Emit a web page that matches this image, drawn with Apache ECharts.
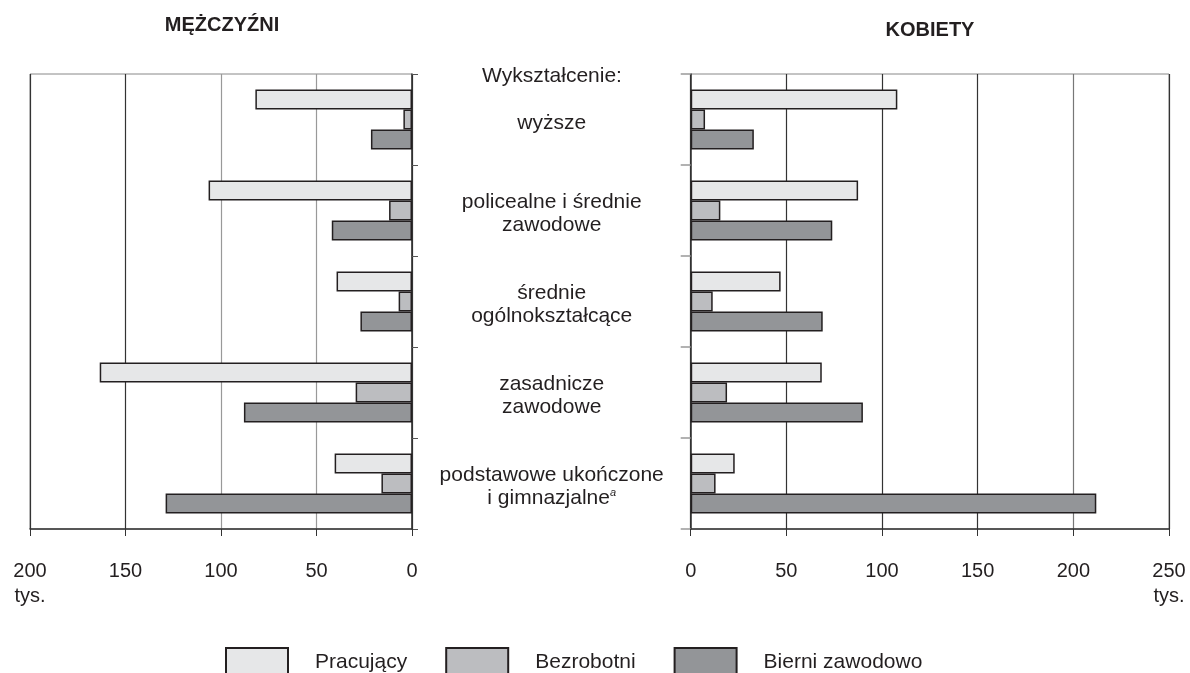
<!DOCTYPE html>
<html>
<head>
<meta charset="utf-8">
<title>Wykształcenie</title>
<script src="https://cdn.jsdelivr.net/npm/echarts@6/dist/echarts.min.js"></script>
<style>
  html, body { margin: 0; padding: 0; background: #fff; }
  #container { width: 1190px; height: 673px; }
</style>
</head>
<body>
<div id="container"></div>
<script>
// dane (tys.)
var categories = ['wyższe', 'policealne i średnie\nzawodowe', 'średnie\nogólnokształcące', 'zasadnicze\nzawodowe', 'podstawowe ukończone\ni gimnazjalne'];
var seriesNames = ['Pracujący', 'Bezrobotni', 'Bierni zawodowo'];
var menPracujacy = [82, 106.5, 39.5, 163.5, 40.5];
var menBezrobotni = [4.5, 12, 7, 29.5, 16];
var menBierni = [21.5, 42, 27, 88, 129];
var womenPracujacy = [108, 87.5, 47, 68.5, 23];
var womenBezrobotni = [7.5, 15.5, 11.5, 19, 13];
var womenBierni = [33, 74, 69, 90, 212];
var menTicks = [0, 50, 100, 150, 200];
var womenTicks = [0, 50, 100, 150, 200, 250];

var colors = ['#e6e7e8', '#bcbdc0', '#939598'];
var ink = '#231f20';
var font = 'Liberation Sans, Arial, Helvetica, sans-serif';

var myChart = echarts.init(document.getElementById('container'));

function bar(name, data, idx, gridIdx) {
  return {
    name: name,
    type: 'bar',
    xAxisIndex: gridIdx,
    yAxisIndex: gridIdx,
    data: data,
    barWidth: 20,
    barGap: '0%',
    itemStyle: { color: colors[idx], borderColor: ink, borderWidth: 1.5 },
    emphasis: { disabled: true }
  };
}

function tickLabel(lastVal) {
  return function (v) {
    return v === lastVal ? v + '\ntys.' : String(v);
  };
}

var option = {
  animation: false,
  textStyle: { fontFamily: font },
  graphic: [
    { type: 'text', x: 222, y: 25, style: { text: 'MĘŻCZYŹNI', fill: ink, font: 'bold 20px ' + font, textAlign: 'center', textVerticalAlign: 'middle' } },
    { type: 'text', x: 930, y: 30, style: { text: 'KOBIETY', fill: ink, font: 'bold 20px ' + font, textAlign: 'center', textVerticalAlign: 'middle' } },
    { type: 'text', x: 552, y: 76, style: { text: 'Wykształcenie:', fill: ink, font: '21px ' + font, textAlign: 'center', textVerticalAlign: 'middle' } }
  ],
  legend: {
    data: seriesNames,
    left: 220,
    top: 642,
    itemWidth: 62,
    itemHeight: 28,
    itemGap: 38,
    icon: 'rect',
    selectedMode: false,
    textStyle: { fontSize: 21, color: ink, fontFamily: font, padding: [0, 0, 0, 22] }
  },
  grid: [
    { left: 30, right: 778, top: 74, height: 455, show: true, borderColor: '#888', borderWidth: 1 },
    { left: 690.7, right: 21, top: 74, height: 455, show: true, borderColor: '#888', borderWidth: 1 }
  ],
  xAxis: [
    {
      type: 'value', gridIndex: 0, inverse: true, min: menTicks[0], max: menTicks[menTicks.length - 1], interval: 50,
      axisLine: { show: true, lineStyle: { color: '#333', width: 1.5 } },
      axisTick: { show: true, length: 7, lineStyle: { color: '#333' } },
      axisLabel: { margin: 30, fontSize: 20, color: ink, lineHeight: 25, formatter: tickLabel(200) },
      splitLine: { show: true, lineStyle: { color: ['#333', '#999', '#999', '#333', '#333'], width: 1.2 } }
    },
    {
      type: 'value', gridIndex: 1, min: womenTicks[0], max: womenTicks[womenTicks.length - 1], interval: 50,
      axisLine: { show: true, lineStyle: { color: '#333', width: 1.5 } },
      axisTick: { show: true, length: 7, lineStyle: { color: '#333' } },
      axisLabel: { margin: 30, fontSize: 20, color: ink, lineHeight: 25, formatter: tickLabel(250) },
      splitLine: { show: true, lineStyle: { color: ['#333', '#333', '#333', '#333', '#777', '#333'], width: 1.2 } }
    }
  ],
  yAxis: [
    {
      type: 'category', gridIndex: 0, data: categories, inverse: true, position: 'right',
      axisLine: { show: true, lineStyle: { color: '#333', width: 1.5 } },
      axisTick: { show: true, length: 6, lineStyle: { color: '#555' } },
      axisLabel: { show: false }
    },
    {
      type: 'category', gridIndex: 1, data: categories, inverse: true, position: 'left',
      axisLine: { show: true, lineStyle: { color: '#333', width: 1.5 } },
      axisTick: { show: true, length: 10, lineStyle: { color: '#999', width: 1.5 } },
      axisLabel: {
        margin: 139, align: 'center', fontSize: 21, lineHeight: 23, color: ink, padding: [7, 0, 0, 0],
        formatter: function (v, i) {
          return i === categories.length - 1 ? v + '{sup|a}' : v;
        },
        rich: {
          sup: { fontSize: 11, fontStyle: 'italic', color: ink, verticalAlign: 'top', lineHeight: 23, padding: [0, 0, 8, 0] }
        }
      }
    }
  ],
  series: [
    bar(seriesNames[0], menPracujacy, 0, 0),
    bar(seriesNames[1], menBezrobotni, 1, 0),
    bar(seriesNames[2], menBierni, 2, 0),
    bar(seriesNames[0], womenPracujacy, 0, 1),
    bar(seriesNames[1], womenBezrobotni, 1, 1),
    bar(seriesNames[2], womenBierni, 2, 1)
  ]
};

myChart.setOption(option);
window.onresize = myChart.resize;
</script>
</body>
</html>
